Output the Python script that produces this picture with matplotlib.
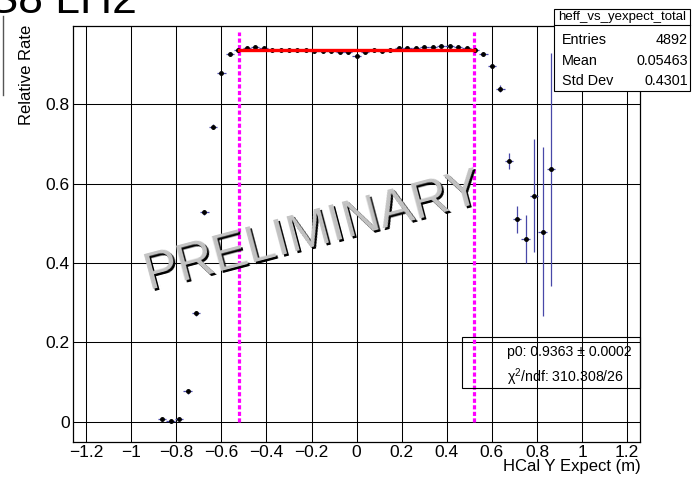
import matplotlib
matplotlib.use("Agg")
import matplotlib.pyplot as plt
import matplotlib.patches as mpatches
import matplotlib.lines as mlines
import matplotlib.transforms as mtransforms

plt.rcParams['font.family'] = ['Liberation Sans', 'DejaVu Sans']
plt.rcParams['mathtext.fontset'] = 'custom'
plt.rcParams['mathtext.rm'] = 'Liberation Sans'
plt.rcParams['mathtext.it'] = 'Liberation Sans:italic'

# ---------------- data ----------------
x_center = [-0.8625, -0.825, -0.7875, -0.75, -0.7125, -0.675, -0.6375, -0.6,
            -0.5625, -0.525, -0.4875, -0.45, -0.4125, -0.375, -0.3375, -0.3,
            -0.2625, -0.225, -0.1875, -0.15, -0.1125, -0.075, -0.0375, 0.0,
            0.0375, 0.075, 0.1125, 0.15, 0.1875, 0.225, 0.2625, 0.3,
            0.3375, 0.375, 0.4125, 0.45, 0.4875, 0.525, 0.5625, 0.6,
            0.6375, 0.675, 0.7125, 0.75, 0.7875, 0.825, 0.8625]
rel_rate = [0.006, 0.001, 0.008, 0.077, 0.273, 0.527, 0.743, 0.878,
            0.926, 0.936, 0.942, 0.943, 0.942, 0.936, 0.936, 0.936,
            0.935, 0.936, 0.933, 0.933, 0.934, 0.932, 0.930, 0.921,
            0.932, 0.936, 0.934, 0.936, 0.941, 0.942, 0.942, 0.943,
            0.944, 0.945, 0.945, 0.943, 0.942, 0.935, 0.925, 0.896,
            0.839, 0.657, 0.510, 0.460, 0.569, 0.479, 0.636]
rel_rate_err = [0.004, 0.003, 0.004, 0.006, 0.006, 0.006, 0.006, 0.005,
                0.004, 0.004, 0.004, 0.004, 0.004, 0.004, 0.004, 0.004,
                0.004, 0.004, 0.004, 0.004, 0.004, 0.004, 0.004, 0.004,
                0.004, 0.004, 0.004, 0.004, 0.004, 0.004, 0.004, 0.004,
                0.004, 0.004, 0.004, 0.004, 0.004, 0.004, 0.005, 0.006,
                0.008, 0.020, 0.034, 0.060, 0.142, 0.212, 0.293]
bin_half_width = 0.01875

fit_range = [-0.52, 0.52]
fit_p0 = 0.9363
cut_lines = [-0.52, 0.52]

x_ticks = [-1.2, -1.0, -0.8, -0.6, -0.4, -0.2, 0.0, 0.2, 0.4, 0.6, 0.8, 1.0, 1.2]
x_tick_labels = ["\u22121.2", "\u22121", "\u22120.8", "\u22120.6", "\u22120.4", "\u22120.2",
                 "0", "0.2", "0.4", "0.6", "0.8", "1", "1.2"]
y_ticks = [0.0, 0.2, 0.4, 0.6, 0.8]
y_tick_labels = ["0", "0.2", "0.4", "0.6", "0.8"]

stat_title = "heff_vs_yexpect_total"
stat_names = ["Entries", "Mean", "Std Dev"]
stat_values = ["4892", "0.05463", "0.4301"]
fit_lines = ["p0: 0.9363 \u00b1 0.0002", "\u03c7$^{2}$/ndf: 310.308/26"]

# ---------------- figure ----------------
W, H = 695, 478
fig = plt.figure(figsize=(W / 100, H / 100), dpi=100)


def fx(px):
    return px / W


def fy(py):
    return 1 - py / H


ax_l, ax_r, ax_t, ax_b = 73.3, 640.0, 26.0, 441.7
ax = fig.add_axes([fx(ax_l), fy(ax_b), fx(ax_r - ax_l), (ax_b - ax_t) / H])
ax.set_xlim(-1.257, 1.257)
ax.set_ylim(-0.05, 0.9965)

ax.set_xticks(x_ticks)
ax.set_xticklabels(x_tick_labels)
ax.set_yticks(y_ticks)
ax.set_yticklabels(y_tick_labels)
ax.tick_params(axis='both', length=0, labelsize=12.5, colors='black')
ax.tick_params(axis='x', pad=2.5)
ax.tick_params(axis='y', pad=2.5)
ax.grid(True, color='black', linewidth=0.75)
ax.set_axisbelow(True)
for s in ax.spines.values():
    s.set_linewidth(0.9)
    s.set_color('black')

# cut lines
ax.vlines(cut_lines, 0, 0.982, colors='#ff00ff', linewidth=2.3,
          linestyles=(0, (1.3, 0.75)), zorder=3)

# data
ax.errorbar(x_center, rel_rate, yerr=rel_rate_err, xerr=bin_half_width,
            fmt='o', color='black', ms=2.5, ecolor='#4848a8', elinewidth=0.9,
            capsize=0, zorder=4)

# fit line
ax.plot(fit_range, [fit_p0, fit_p0], color='#ff0000', linewidth=2.4, zorder=5)

# axis labels
fig.text(fx(641), fy(467), "HCal Y Expect (m)", ha='right', va='center', fontsize=12)
fig.text(fx(27), fy(25), "Relative Rate", rotation=90, ha='center', va='top', fontsize=12)

# watermark
base = dict(fontsize=37, rotation=14.8, rotation_mode='anchor',
            ha='center', va='baseline', transform=fig.transFigure, zorder=6)
shadow_tr = mtransforms.offset_copy(fig.transFigure, fig=fig, x=2.0, y=-2.0, units='dots')
fig.text(fx(317), fy(245), "PRELIMINARY", color='black',
         **{**base, 'transform': shadow_tr})
fig.text(fx(317), fy(245), "PRELIMINARY", color='#c4c4c4', **base)

# fit stats box (transparent)
fig.add_artist(mpatches.Rectangle((fx(462), fy(388)), fx(640 - 462), (388 - 337) / H,
                                  transform=fig.transFigure, fill=False,
                                  edgecolor='black', linewidth=0.8, zorder=7))
fig.text(fx(507), fy(352), fit_lines[0], ha='left', va='center', fontsize=10.2, zorder=8)
fig.text(fx(507), fy(377), fit_lines[1], ha='left', va='center', fontsize=10.2, zorder=8)

# stats box (opaque)
fig.add_artist(mpatches.Rectangle((fx(554), fy(91)), fx(690 - 554), (91 - 9) / H,
                                  transform=fig.transFigure, facecolor='white',
                                  edgecolor='black', linewidth=0.8, zorder=7))
fig.add_artist(mlines.Line2D([fx(554), fx(690)], [fy(25), fy(25)],
                             transform=fig.transFigure, color='black',
                             linewidth=0.8, zorder=8))
fig.text(fx(622), fy(17), stat_title, ha='center', va='center', fontsize=9.5, zorder=9)
for i, (n, v) in enumerate(zip(stat_names, stat_values)):
    yy = [40.5, 61, 81][i]
    fig.text(fx(562), fy(yy), n, ha='left', va='center', fontsize=10.4, zorder=9)
    fig.text(fx(688), fy(yy), v, ha='right', va='center', fontsize=10.4, zorder=9)

# cropped title at the top-left (cut off by the top edge, as in the reference)
fig.text(fx(137), fy(13), "SBS8 LH2", ha='right', va='baseline', fontsize=32)

# stray frame edge at far left
fig.add_artist(mlines.Line2D([fx(3), fx(3)], [fy(16), fy(95)],
                             transform=fig.transFigure, color='#555555', linewidth=1.0))

fig.savefig("out.png", dpi=100)
